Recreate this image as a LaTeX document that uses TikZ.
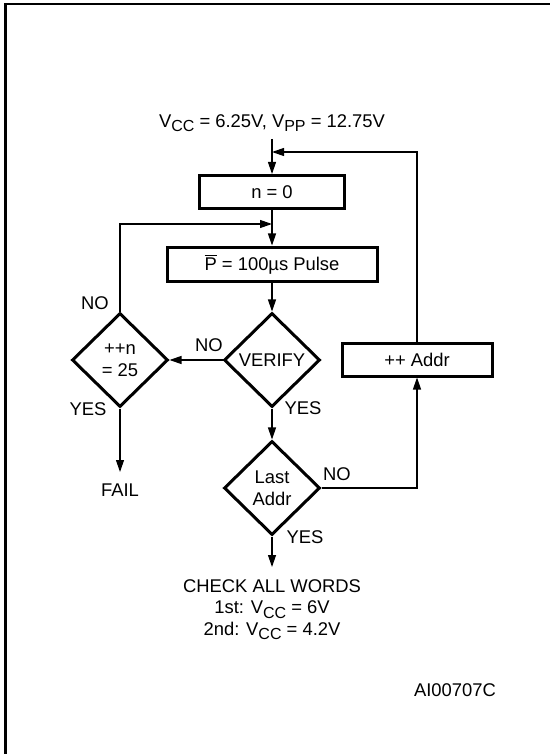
\documentclass[tikz,border=0pt]{standalone}
\usepackage{fontspec}
\setmainfont{Liberation Sans}
\usetikzlibrary{shapes.geometric,arrows.meta}
\newcommand{\lowtxt}[1]{\raisebox{-0.45ex}{\fontsize{8}{8}\selectfont #1}}

\begin{document}
\begin{tikzpicture}[x=0.5pt,y=-0.5pt,font=\fontsize{9.2}{10.8}\selectfont,
  box/.style={draw,line width=1.5pt,inner sep=0pt,minimum height=16.5pt},
  dia/.style={draw,diamond,aspect=1,line width=1.5pt,inner sep=0pt,
    minimum width=48pt,minimum height=47pt,align=center},
  arr/.style={-{Triangle[length=6pt,width=4pt]},line width=0.6pt}]
  \useasboundingbox (0,0) rectangle (550,754);
  \draw[line width=1.3pt] (5.5,760) -- (5.5,4) -- (560,4);
  % flow
  \node (title) at (272,123) {V\lowtxt{CC} = 6.25V, V\lowtxt{PP} = 12.75V};
  \node[box,minimum width=72.5pt] (zero) at (272,192) {n = 0};
  \node[box,minimum width=105pt,minimum height=17pt] (pulse) at (272,264) {$\overline{\mbox{P}}$ = 100µs Pulse};
  \node[dia] (verify) at (272,360) {VERIFY};
  \node[dia] (cnt) at (120,360) {++n\\= 25};
  \node[dia] (last) at (272,488) {Last\\Addr};
  \node[box,minimum width=75pt] (addr) at (417,359.5) {++ Addr};
  \node[anchor=north,inner sep=5.5pt] (fail) at (120,472) {FAIL};
  \node[anchor=north,inner sep=6pt,align=center] (check) at (272,567)
    {CHECK ALL WORDS\\1st: V\lowtxt{CC} = 6V\\2nd: V\lowtxt{CC} = 4.2V};
  \node (code) at (455,690) {AI00707C};
  \coordinate (j1) at (272,152);
  \coordinate (j2) at (272,224);
  % labels
  \node (no1) at (95,303) {NO};
  \node (yes1) at (88,409) {YES};
  \node (no2) at (209,345) {NO};
  \node (yes2) at (303,408) {YES};
  \node (no3) at (337,474) {NO};
  \node (yes3) at (305,537) {YES};
  % arrows
  \draw[arr] (title) -- (zero);
  \draw[arr] (zero) -- (pulse);
  \draw[arr] (pulse) -- (verify);
  \draw[arr] (verify) -- (cnt);
  \draw[arr] (cnt.north) |- (j2);
  \draw[arr] (cnt) -- (fail);
  \draw[arr] (verify) -- (last);
  \draw[arr] (last.east) -| (addr.south);
  \draw[arr] (addr.north) |- (j1);
  \draw[arr] (last) -- (check);
\end{tikzpicture}
\end{document}
